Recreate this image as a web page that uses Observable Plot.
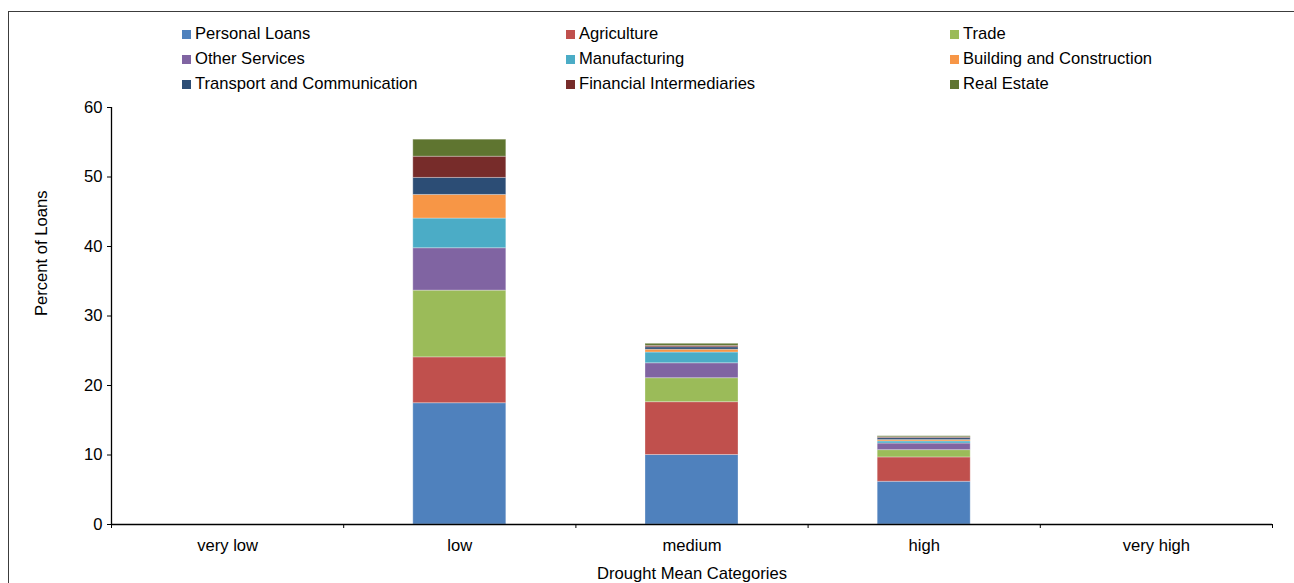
<!DOCTYPE html>
<html>
<head>
<meta charset="utf-8">
<script src="https://cdn.jsdelivr.net/npm/d3@7"></script>
<script src="https://cdn.jsdelivr.net/npm/@observablehq/plot@0.6"></script>
<style>
  html, body { margin: 0; padding: 0; background: #fff; overflow: hidden; }
  #chart { position: relative; width: 1294px; height: 583px; overflow: hidden;
           font-family: "Liberation Sans", Arial, sans-serif; color: #000; }
  #frame { position: absolute; left: 8px; top: 11px; width: 1340px; height: 640px;
           border: 1px solid #3c3c3c; box-sizing: border-box; pointer-events: none; }
  #plot { position: absolute; left: 0; top: 0; }
  #legend { position: absolute; left: 182px; top: 22px;
            display: grid; grid-template-columns: 384px 384px 384px; grid-auto-rows: 25px;
            font-size: 16.6px; }
  .item { display: flex; align-items: center; white-space: nowrap; line-height: 1; }
  .swatch { width: 9px; height: 9px; margin-right: 4px; flex: none; }
</style>
</head>
<body>
<div id="chart">
  <div id="plot"></div>
  <div id="legend"></div>
  <div id="frame"></div>
</div>
<script>
// Drought categories along the x axis
const categories = ["very low", "low", "medium", "high", "very high"];

// Loan sectors, in stacking (and legend) order
const sectors = [
  "Personal Loans", "Agriculture", "Trade",
  "Other Services", "Manufacturing", "Building and Construction",
  "Transport and Communication", "Financial Intermediaries", "Real Estate"
];
const sectorColors = [
  "#4F81BD", "#C0504D", "#9BBB59",
  "#8064A2", "#4BACC6", "#F79646",
  "#2C4D75", "#772C2A", "#5F7530"
];

// Percent of loans per sector, one value per drought category
const personalLoans     = [0, 17.45, 10.0, 6.15, 0];
const agriculture       = [0, 6.6, 7.6, 3.5, 0];
const trade             = [0, 9.6, 3.45, 1.05, 0];
const otherServices     = [0, 6.1, 2.15, 0.95, 0];
const manufacturing     = [0, 4.27, 1.55, 0.3, 0];
const building          = [0, 3.4, 0.4, 0.2, 0];
const transport         = [0, 2.45, 0.35, 0.28, 0];
const financial         = [0, 3.05, 0.2, 0.12, 0];
const realEstate        = [0, 2.45, 0.3, 0.15, 0];

const yTicks = [0, 10, 20, 30, 40, 50, 60];

const series = [personalLoans, agriculture, trade, otherServices, manufacturing,
                building, transport, financial, realEstate];

// Long table: one row per sector and category
const rows = [];
series.forEach((values, s) => {
  values.forEach((v, i) => {
    if (v > 0) rows.push({sector: sectors[s], i, value: v});
  });
});

const chart = Plot.plot({
  width: 1294,
  height: 583,
  marginLeft: 111,
  marginRight: 22,
  marginTop: 107,
  marginBottom: 59,
  style: {fontFamily: '"Liberation Sans", Arial, sans-serif', fontSize: "16.6px", color: "#000", background: "transparent"},
  x: {domain: [0, categories.length]},
  y: {domain: [0, 60]},
  color: {domain: sectors, range: sectorColors},
  marks: [
    Plot.rectY(rows, {
      x1: d => d.i, x2: d => d.i + 1, y: "value", fill: "sector",
      insetLeft: 69.6, insetRight: 69.6,
      stroke: "white", strokeOpacity: 0.3, strokeWidth: 1
    }),
    Plot.ruleY([0], {stroke: "#000", strokeWidth: 1.3}),
    Plot.ruleX([0], {stroke: "#000", strokeWidth: 1.3}),
    Plot.axisY({ticks: yTicks, tickSize: 4, tickPadding: 5, label: null}),
    // boundary ticks between categories
    Plot.axisX({ticks: d3.range(0, categories.length + 1), tickSize: 4, tickFormat: () => "", label: null}),
    // category names centred in each band
    Plot.axisX({ticks: categories.map((c, i) => i + 0.5), tickSize: 0, tickPadding: 15,
                tickFormat: d => categories[Math.floor(d)], label: null}),
    Plot.text(["Drought Mean Categories"], {frameAnchor: "bottom", dy: 49, lineAnchor: "middle", fill: "#000"}),
    Plot.text(["Percent of Loans"], {frameAnchor: "left", dx: -70, rotate: -90, fill: "#000"})
  ]
});
document.getElementById("plot").append(chart);

// Legend laid out in three columns, row by row
const legend = d3.select("#legend");
sectors.forEach((name, k) => {
  const item = legend.append("div").attr("class", "item");
  item.append("div").attr("class", "swatch").style("background", sectorColors[k]);
  item.append("span").text(name);
});
</script>
</body>
</html>
